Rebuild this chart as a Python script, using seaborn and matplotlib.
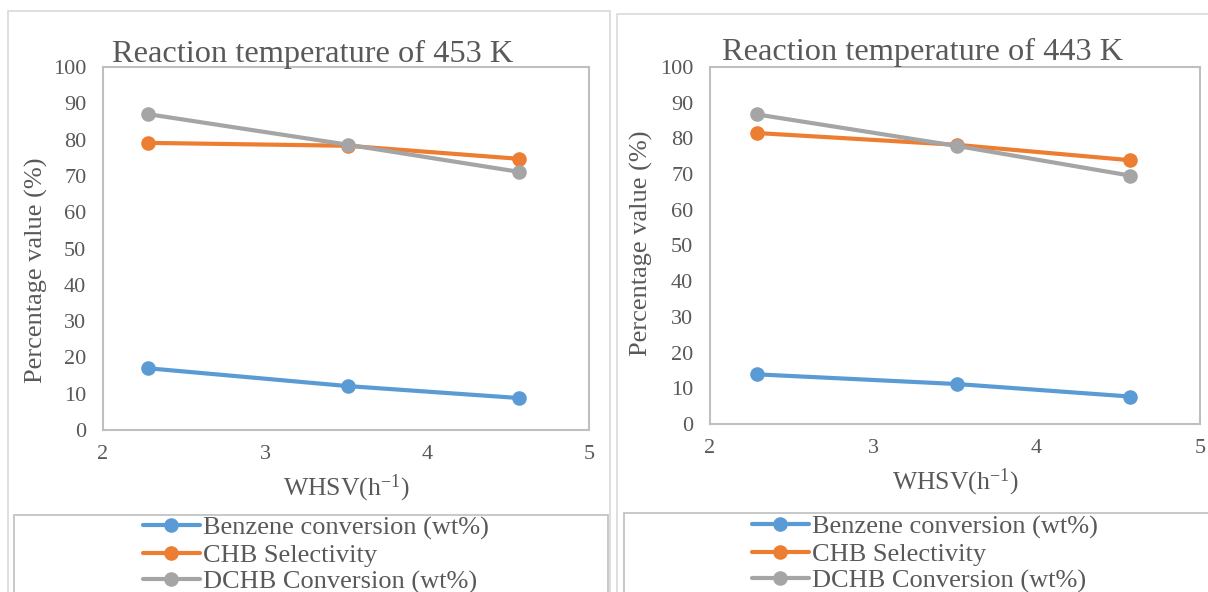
import numpy as np
import pandas as pd
import seaborn as sns
import matplotlib
matplotlib.use("Agg")
import matplotlib.pyplot as plt
from matplotlib.patches import Rectangle

# WHSV values (h^-1) and measured percentages for each reaction temperature
whsv_453 = [2.28, 3.51, 4.57]
benzene_453 = [17.0, 12.1, 8.8]
chb_453 = [79.1, 78.3, 74.7]
dchb_453 = [87.0, 78.6, 71.1]

whsv_443 = [2.29, 3.51, 4.57]
benzene_443 = [13.9, 11.2, 7.7]
chb_443 = [81.5, 78.2, 73.9]
dchb_443 = [86.7, 77.9, 69.6]

series_names = ["Benzene conversion (wt%)", "CHB Selectivity", "DCHB Conversion (wt%)"]
titles = ["Reaction temperature of 453 K", "Reaction temperature of 443 K"]
x_ticks = [2, 3, 4, 5]
y_ticks = list(range(0, 101, 10))

colors = ["#5B9BD5", "#ED7D31", "#A5A5A5"]
text_color = "#595959"
frame_color = "#BFBFBF"
box_color = "#D9D9D9"

sns.set_theme(style="white")
plt.rcParams["font.family"] = ["Liberation Serif", "DejaVu Serif"]
plt.rcParams["mathtext.fontset"] = "custom"
plt.rcParams["mathtext.rm"] = "Liberation Serif"
plt.rcParams["mathtext.it"] = "Liberation Serif:italic"


def long_frame(x, b, c, d):
    rows = []
    for name, vals in zip(series_names, [b, c, d]):
        for xv, yv in zip(x, vals):
            rows.append({"WHSV": xv, "value": yv, "series": name})
    return pd.DataFrame(rows)


frames = [long_frame(whsv_453, benzene_453, chb_453, dchb_453),
          long_frame(whsv_443, benzene_443, chb_443, dchb_443)]

fig = plt.figure(figsize=(12.08, 5.92), dpi=100)
W, H = 1208, 592

# chart areas in pixels (converted to figure fractions below)
axes_px = [(103, 67, 589, 430), (710, 67, 1200, 424)]
chart_px = [(8, 11, 610, 600), (617, 14, 1215, 600)]
legend_px = [(14, 515, 608, 600), (624, 513, 1215, 600)]
title_pos = [(112, 62), (722, 60)]
legend_anchor = [(143, 516), (752, 515)]
ylabel_coords = [(-0.113, 0.44), (-0.116, 0.507)]

for (cx0, cy0, cx1, cy1) in chart_px:
    fig.patches.append(Rectangle((cx0 / W, 1 - cy1 / H), (cx1 - cx0) / W, (cy1 - cy0) / H,
                                 transform=fig.transFigure, fill=False,
                                 edgecolor=box_color, linewidth=1.2, zorder=0))
for (lx0, ly0, lx1, ly1) in legend_px:
    fig.patches.append(Rectangle((lx0 / W, 1 - ly1 / H), (lx1 - lx0) / W, (ly1 - ly0) / H,
                                 transform=fig.transFigure, fill=False,
                                 edgecolor=frame_color, linewidth=1.2, zorder=0))

for i, df in enumerate(frames):
    x0, y0, x1, y1 = axes_px[i]
    ax = fig.add_axes([x0 / W, 1 - y1 / H, (x1 - x0) / W, (y1 - y0) / H])
    sns.lineplot(data=df, x="WHSV", y="value", hue="series", palette=colors,
                 marker="o", markersize=10.5, markeredgewidth=0, linewidth=3,
                 ax=ax, legend=True, clip_on=False)
    ax.set_xlim(2, 5)
    ax.set_ylim(0, 100)
    ax.set_xticks(x_ticks)
    ax.set_yticks(y_ticks)
    ax.tick_params(axis="both", length=0, labelsize=16, labelcolor=text_color)
    ax.tick_params(axis="x", pad=11)
    ax.tick_params(axis="y", pad=12)
    for sp in ax.spines.values():
        sp.set_color(frame_color)
        sp.set_linewidth(1.5)
    ax.set_xlabel(r"WHSV(h$^{\mathrm{-1}}$)", fontsize=18.5, color=text_color, labelpad=6)
    ax.set_ylabel("Percentage value (%)", fontsize=19, color=text_color)
    ax.yaxis.set_label_coords(*ylabel_coords[i])

    tx, ty = title_pos[i]
    fig.text(tx / W, 1 - ty / H, titles[i], fontsize=23.3, color=text_color,
             ha="left", va="baseline")

    handles, labels = ax.get_legend_handles_labels()
    ax.legend_.remove()
    ax_x, ax_y = legend_anchor[i]
    fig.legend(handles, labels, loc="upper left",
               bbox_to_anchor=(ax_x / W, 1 - ax_y / H),
               frameon=False, fontsize=19, labelcolor=text_color,
               handlelength=2.15, handletextpad=0.12, labelspacing=0.13,
               borderpad=0.0, borderaxespad=0.0)

fig.savefig("out.png", dpi=100, facecolor="white")
